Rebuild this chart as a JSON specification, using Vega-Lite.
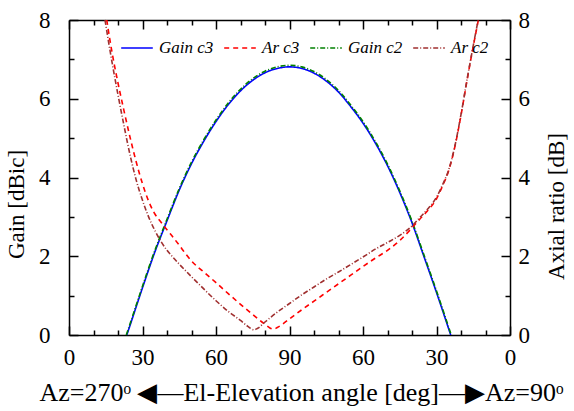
{
  "$schema": "https://vega.github.io/schema/vega-lite/v6.json",
  "width": 441,
  "height": 315,
  "autosize": "none",
  "padding": {"left": 69, "top": 20, "right": 64, "bottom": 76},
  "background": "white",
  "config": {
    "font": "Liberation Serif",
    "view": {"stroke": null},
    "axis": {
      "grid": false,
      "domainColor": "black",
      "domainWidth": 1.5,
      "tickColor": "black",
      "tickWidth": 1.5,
      "labelColor": "black",
      "labelFont": "Liberation Serif",
      "labelFontSize": 23,
      "labelOverlap": false,
      "labelFlush": false,
      "titleColor": "black",
      "titleFont": "Liberation Serif",
      "titleFontSize": 23,
      "titleFontWeight": "normal"
    }
  },
  "data": {
    "values": [
      {"s": "Gain c3", "el": 23.6, "v": 0},
      {"s": "Gain c3", "el": 25, "v": 0.26},
      {"s": "Gain c3", "el": 30, "v": 1.2},
      {"s": "Gain c3", "el": 35, "v": 2.1},
      {"s": "Gain c3", "el": 40, "v": 2.9},
      {"s": "Gain c3", "el": 45, "v": 3.68},
      {"s": "Gain c3", "el": 50, "v": 4.35},
      {"s": "Gain c3", "el": 55, "v": 4.92},
      {"s": "Gain c3", "el": 60, "v": 5.42},
      {"s": "Gain c3", "el": 65, "v": 5.85},
      {"s": "Gain c3", "el": 70, "v": 6.2},
      {"s": "Gain c3", "el": 75, "v": 6.47},
      {"s": "Gain c3", "el": 80, "v": 6.66},
      {"s": "Gain c3", "el": 85, "v": 6.77},
      {"s": "Gain c3", "el": 90, "v": 6.81},
      {"s": "Gain c3", "el": 95, "v": 6.77},
      {"s": "Gain c3", "el": 100, "v": 6.65},
      {"s": "Gain c3", "el": 105, "v": 6.45},
      {"s": "Gain c3", "el": 110, "v": 6.17},
      {"s": "Gain c3", "el": 115, "v": 5.8},
      {"s": "Gain c3", "el": 120, "v": 5.38},
      {"s": "Gain c3", "el": 125, "v": 4.88},
      {"s": "Gain c3", "el": 130, "v": 4.3},
      {"s": "Gain c3", "el": 135, "v": 3.62},
      {"s": "Gain c3", "el": 140, "v": 2.85},
      {"s": "Gain c3", "el": 145, "v": 1.97},
      {"s": "Gain c3", "el": 150, "v": 1.08},
      {"s": "Gain c3", "el": 155, "v": 0.15},
      {"s": "Gain c3", "el": 155.8, "v": 0},

      {"s": "Gain c2", "el": 23.4, "v": 0},
      {"s": "Gain c2", "el": 25, "v": 0.3},
      {"s": "Gain c2", "el": 30, "v": 1.24},
      {"s": "Gain c2", "el": 35, "v": 2.14},
      {"s": "Gain c2", "el": 40, "v": 2.94},
      {"s": "Gain c2", "el": 45, "v": 3.72},
      {"s": "Gain c2", "el": 50, "v": 4.39},
      {"s": "Gain c2", "el": 55, "v": 4.96},
      {"s": "Gain c2", "el": 60, "v": 5.46},
      {"s": "Gain c2", "el": 65, "v": 5.89},
      {"s": "Gain c2", "el": 70, "v": 6.24},
      {"s": "Gain c2", "el": 75, "v": 6.51},
      {"s": "Gain c2", "el": 80, "v": 6.7},
      {"s": "Gain c2", "el": 85, "v": 6.81},
      {"s": "Gain c2", "el": 90, "v": 6.85},
      {"s": "Gain c2", "el": 95, "v": 6.81},
      {"s": "Gain c2", "el": 100, "v": 6.69},
      {"s": "Gain c2", "el": 105, "v": 6.49},
      {"s": "Gain c2", "el": 110, "v": 6.21},
      {"s": "Gain c2", "el": 115, "v": 5.84},
      {"s": "Gain c2", "el": 120, "v": 5.42},
      {"s": "Gain c2", "el": 125, "v": 4.92},
      {"s": "Gain c2", "el": 130, "v": 4.34},
      {"s": "Gain c2", "el": 135, "v": 3.66},
      {"s": "Gain c2", "el": 140, "v": 2.89},
      {"s": "Gain c2", "el": 145, "v": 2.01},
      {"s": "Gain c2", "el": 150, "v": 1.12},
      {"s": "Gain c2", "el": 155, "v": 0.19},
      {"s": "Gain c2", "el": 156, "v": 0},

      {"s": "Ar c3", "el": 15.4, "v": 8.0},
      {"s": "Ar c3", "el": 17.5, "v": 7.2},
      {"s": "Ar c3", "el": 20, "v": 6.4},
      {"s": "Ar c3", "el": 22.5, "v": 5.68},
      {"s": "Ar c3", "el": 25, "v": 5.0},
      {"s": "Ar c3", "el": 27.5, "v": 4.38},
      {"s": "Ar c3", "el": 30, "v": 3.84},
      {"s": "Ar c3", "el": 32.5, "v": 3.4},
      {"s": "Ar c3", "el": 35, "v": 3.08},
      {"s": "Ar c3", "el": 37.5, "v": 2.87},
      {"s": "Ar c3", "el": 40, "v": 2.67},
      {"s": "Ar c3", "el": 42.5, "v": 2.48},
      {"s": "Ar c3", "el": 45, "v": 2.28},
      {"s": "Ar c3", "el": 47.5, "v": 2.07},
      {"s": "Ar c3", "el": 50, "v": 1.88},
      {"s": "Ar c3", "el": 55, "v": 1.6},
      {"s": "Ar c3", "el": 60, "v": 1.33},
      {"s": "Ar c3", "el": 65, "v": 1.05},
      {"s": "Ar c3", "el": 70, "v": 0.78},
      {"s": "Ar c3", "el": 75, "v": 0.52},
      {"s": "Ar c3", "el": 80, "v": 0.27},
      {"s": "Ar c3", "el": 82, "v": 0.18},
      {"s": "Ar c3", "el": 83.5, "v": 0.15},
      {"s": "Ar c3", "el": 85, "v": 0.19},
      {"s": "Ar c3", "el": 90, "v": 0.41},
      {"s": "Ar c3", "el": 95, "v": 0.64},
      {"s": "Ar c3", "el": 100, "v": 0.86},
      {"s": "Ar c3", "el": 105, "v": 1.08},
      {"s": "Ar c3", "el": 110, "v": 1.3},
      {"s": "Ar c3", "el": 115, "v": 1.52},
      {"s": "Ar c3", "el": 120, "v": 1.74},
      {"s": "Ar c3", "el": 125, "v": 1.95},
      {"s": "Ar c3", "el": 130, "v": 2.15},
      {"s": "Ar c3", "el": 135, "v": 2.4},
      {"s": "Ar c3", "el": 140, "v": 2.72},
      {"s": "Ar c3", "el": 143, "v": 2.93},
      {"s": "Ar c3", "el": 146, "v": 3.13},
      {"s": "Ar c3", "el": 150, "v": 3.46},
      {"s": "Ar c3", "el": 152.5, "v": 3.79},
      {"s": "Ar c3", "el": 155, "v": 4.18},
      {"s": "Ar c3", "el": 157.5, "v": 4.78},
      {"s": "Ar c3", "el": 160, "v": 5.58},
      {"s": "Ar c3", "el": 162.5, "v": 6.48},
      {"s": "Ar c3", "el": 165, "v": 7.33},
      {"s": "Ar c3", "el": 167.1, "v": 8.0},

      {"s": "Ar c2", "el": 14.7, "v": 8.0},
      {"s": "Ar c2", "el": 17.5, "v": 6.95},
      {"s": "Ar c2", "el": 20, "v": 6.1},
      {"s": "Ar c2", "el": 22.5, "v": 5.3},
      {"s": "Ar c2", "el": 25, "v": 4.55},
      {"s": "Ar c2", "el": 27.5, "v": 3.92},
      {"s": "Ar c2", "el": 30, "v": 3.42},
      {"s": "Ar c2", "el": 32.5, "v": 3.0},
      {"s": "Ar c2", "el": 35, "v": 2.66},
      {"s": "Ar c2", "el": 37.5, "v": 2.38},
      {"s": "Ar c2", "el": 40, "v": 2.15},
      {"s": "Ar c2", "el": 42.5, "v": 1.97},
      {"s": "Ar c2", "el": 45, "v": 1.8},
      {"s": "Ar c2", "el": 50, "v": 1.48},
      {"s": "Ar c2", "el": 55, "v": 1.17},
      {"s": "Ar c2", "el": 60, "v": 0.87},
      {"s": "Ar c2", "el": 65, "v": 0.6},
      {"s": "Ar c2", "el": 70, "v": 0.37},
      {"s": "Ar c2", "el": 73, "v": 0.22},
      {"s": "Ar c2", "el": 75.5, "v": 0.13},
      {"s": "Ar c2", "el": 77, "v": 0.17},
      {"s": "Ar c2", "el": 80, "v": 0.33},
      {"s": "Ar c2", "el": 85, "v": 0.58},
      {"s": "Ar c2", "el": 90, "v": 0.8},
      {"s": "Ar c2", "el": 95, "v": 1.02},
      {"s": "Ar c2", "el": 100, "v": 1.22},
      {"s": "Ar c2", "el": 105, "v": 1.42},
      {"s": "Ar c2", "el": 110, "v": 1.6},
      {"s": "Ar c2", "el": 115, "v": 1.79},
      {"s": "Ar c2", "el": 120, "v": 1.98},
      {"s": "Ar c2", "el": 125, "v": 2.18},
      {"s": "Ar c2", "el": 130, "v": 2.35},
      {"s": "Ar c2", "el": 135, "v": 2.53},
      {"s": "Ar c2", "el": 140, "v": 2.77},
      {"s": "Ar c2", "el": 143, "v": 2.97},
      {"s": "Ar c2", "el": 146, "v": 3.17},
      {"s": "Ar c2", "el": 150, "v": 3.5},
      {"s": "Ar c2", "el": 152.5, "v": 3.82},
      {"s": "Ar c2", "el": 155, "v": 4.2},
      {"s": "Ar c2", "el": 157.5, "v": 4.8},
      {"s": "Ar c2", "el": 160, "v": 5.6},
      {"s": "Ar c2", "el": 162.5, "v": 6.5},
      {"s": "Ar c2", "el": 165, "v": 7.35},
      {"s": "Ar c2", "el": 167, "v": 8.0}
    ]
  },
  "layer": [
    {
      "transform": [{"filter": "indexof(datum.s, 'Gain') === 0"}],
      "mark": {"type": "line", "interpolate": "monotone"},
      "encoding": {
        "x": {
          "field": "el", "type": "quantitative",
          "scale": {"domain": [0, 180], "nice": false},
          "axis": {
            "orient": "bottom",
            "values": [0, 10, 20, 30, 40, 50, 60, 70, 80, 90, 100, 110, 120, 130, 140, 150, 160, 170, 180],
            "labelExpr": "datum.value % 30 ? '' : format(datum.value <= 90 ? datum.value : 180 - datum.value, 'd')",
            "tickSize": {"condition": {"test": "datum.value % 30 === 0", "value": -9}, "value": -5},
            "labelPadding": 20,
            "title": "Az=270ᵒ ◀—El-Elevation angle [deg]—▶Az=90ᵒ",
            "titleFontSize": 26,
            "titlePadding": 6,
            "titleX": 232
          }
        },
        "y": {
          "field": "v", "type": "quantitative",
          "scale": {"domain": [0, 8], "nice": false},
          "axis": {
            "orient": "left",
            "values": [0, 1, 2, 3, 4, 5, 6, 7, 8],
            "labelExpr": "datum.value % 2 ? '' : format(datum.value, 'd')",
            "tickSize": {"condition": {"test": "datum.value % 2 === 0", "value": -9}, "value": -5},
            "labelPadding": 28,
            "title": "Gain [dBic]",
            "titlePadding": 10,
            "titleY": 184
          }
        },
        "color": {
          "field": "s", "type": "nominal",
          "scale": {"domain": ["Gain c3", "Ar c3", "Gain c2", "Ar c2"], "range": ["#0000ff", "#ff0000", "#008000", "#a03030"]},
          "legend": {
            "orient": "none", "legendX": 51, "legendY": 11,
            "direction": "horizontal", "columns": 4, "title": null,
            "symbolType": "stroke", "symbolSize": 1000,
            "labelFont": "Liberation Serif", "labelFontStyle": "italic", "labelFontSize": 17, "labelColor": "black",
            "labelOffset": 5, "columnPadding": 6
          }
        },
        "strokeDash": {
          "field": "s", "type": "nominal",
          "scale": {"domain": ["Gain c3", "Ar c3", "Gain c2", "Ar c2"], "range": [[1, 0], [5, 4], [5, 2, 1, 2], [5, 2, 1, 2]]}
        },
        "strokeWidth": {
          "field": "s", "type": "nominal",
          "scale": {"domain": ["Gain c3", "Ar c3", "Gain c2", "Ar c2"], "range": [1.6, 1.6, 1.3, 1.3]}
        }
      }
    },
    {
      "transform": [{"filter": "indexof(datum.s, 'Ar') === 0"}],
      "mark": {"type": "line", "interpolate": "monotone"},
      "encoding": {
        "x": {
          "field": "el", "type": "quantitative",
          "scale": {"domain": [0, 180], "nice": false},
          "axis": {
            "orient": "top",
            "values": [0, 10, 20, 30, 40, 50, 60, 70, 80, 90, 100, 110, 120, 130, 140, 150, 160, 170, 180],
            "labels": false,
            "tickSize": {"condition": {"test": "datum.value % 30 === 0", "value": -9}, "value": -5},
            "title": null
          }
        },
        "y": {
          "field": "v", "type": "quantitative",
          "scale": {"domain": [0, 8], "nice": false},
          "axis": {
            "orient": "right",
            "values": [0, 1, 2, 3, 4, 5, 6, 7, 8],
            "labelExpr": "datum.value % 2 ? '' : format(datum.value, 'd')",
            "tickSize": {"condition": {"test": "datum.value % 2 === 0", "value": -9}, "value": -5},
            "labelPadding": 17,
            "title": "Axial ratio [dB]",
            "titleAngle": 270,
            "titleBaseline": "top",
            "titlePadding": 16,
            "titleY": 186
          }
        },
        "color": {"field": "s", "type": "nominal"},
        "strokeDash": {"field": "s", "type": "nominal"},
        "strokeWidth": {"field": "s", "type": "nominal"}
      }
    }
  ],
  "resolve": {"scale": {"y": "independent"}, "axis": {"x": "independent", "y": "independent"}}
}
